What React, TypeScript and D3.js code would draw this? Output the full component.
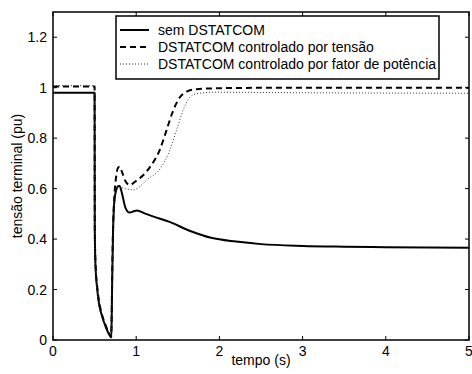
import React from "react";
import * as d3 from "d3";

const xTicks = [0, 1, 2, 3, 4, 5];
const yTicks = [0, 0.2, 0.4, 0.6, 0.8, 1, 1.2];
const yTickLabels = ["0", "0.2", "0.4", "0.6", "0.8", "1", "1.2"];

const legendLabels = [
  "sem DSTATCOM",
  "DSTATCOM controlado por tensão",
  "DSTATCOM controlado por fator de potência",
];

const tSem = [0, 0.5, 0.502, 0.51, 0.532, 0.555, 0.585, 0.636, 0.67, 0.7, 0.705, 0.712, 0.72, 0.735, 0.76, 0.79, 0.8, 0.83, 0.87, 0.92, 0.97, 1.01, 1.1, 1.2, 1.4, 1.65, 1.9, 2.2, 2.5, 3, 3.5, 4, 5];
const vSem = [0.98, 0.98, 0.45, 0.3, 0.2, 0.14, 0.1, 0.05, 0.025, 0.01, 0.08, 0.25, 0.4, 0.54, 0.595, 0.61, 0.61, 0.58, 0.525, 0.505, 0.51, 0.513, 0.502, 0.49, 0.468, 0.432, 0.405, 0.39, 0.38, 0.373, 0.37, 0.368, 0.366];

const tTensao = [0, 0.5, 0.502, 0.51, 0.532, 0.555, 0.585, 0.636, 0.67, 0.7, 0.705, 0.712, 0.72, 0.74, 0.76, 0.78, 0.8, 0.83, 0.87, 0.925, 0.985, 1.08, 1.165, 1.285, 1.365, 1.445, 1.525, 1.605, 1.725, 2.0, 2.245, 3, 5];
const vTensao = [1.005, 1.005, 0.46, 0.31, 0.21, 0.15, 0.105, 0.055, 0.028, 0.012, 0.09, 0.27, 0.42, 0.58, 0.65, 0.682, 0.687, 0.665, 0.63, 0.614, 0.627, 0.652, 0.685, 0.755, 0.832, 0.91, 0.962, 0.984, 0.994, 0.998, 0.999, 1.0, 1.0];

const tFator = [0, 0.5, 0.502, 0.51, 0.532, 0.555, 0.585, 0.636, 0.67, 0.7, 0.705, 0.712, 0.72, 0.74, 0.76, 0.79, 0.82, 0.87, 0.965, 1.05, 1.125, 1.285, 1.405, 1.485, 1.565, 1.645, 1.725, 1.925, 3, 5];
const vFator = [1.008, 1.008, 0.44, 0.29, 0.19, 0.13, 0.095, 0.045, 0.022, 0.008, 0.08, 0.25, 0.4, 0.54, 0.59, 0.61, 0.605, 0.6, 0.595, 0.61, 0.634, 0.678, 0.753, 0.832, 0.912, 0.962, 0.976, 0.982, 0.98, 0.978];

const W = 472;
const H = 374;
const left = 53, right = 469, top = 12, bottom = 340;
const FONT = "'Liberation Sans', Arial, Helvetica, sans-serif";

export default function App() {
  const x = d3.scaleLinear().domain([0, 5]).range([left, right]);
  const y = d3.scaleLinear().domain([0, 1.3]).range([bottom, top]);

  const line = d3
    .line<[number, number]>()
    .x((d) => x(d[0]))
    .y((d) => y(d[1]))
    .curve(d3.curveMonotoneX);

  const pts = (ts: number[], vs: number[]) => ts.map((t, i) => [t, vs[i]] as [number, number]);

  const series = [
    { d: line(pts(tSem, vSem)) || "", dash: undefined as string | undefined, w: 2, color: "#000" },
    { d: line(pts(tTensao, vTensao)) || "", dash: "6,4", w: 2, color: "#000" },
    { d: line(pts(tFator, vFator)) || "", dash: "1,2", w: 1, color: "#333" },
  ];

  const legX = 116, legY = 16, legW = 323, legH = 63;
  const rowY = [30, 47, 64];

  return (
    <svg
      width={W}
      height={H}
      style={{ position: "absolute", left: 0, top: 0, background: "#fff" }}
      fontFamily={FONT}
    >
      <rect x={0} y={0} width={W} height={H} fill="#fff" />
      <defs>
        <clipPath id="plotclip">
          <rect x={left} y={top} width={right - left} height={bottom - top} />
        </clipPath>
      </defs>
      <g clipPath="url(#plotclip)">
        {series.map((s, i) => (
          <path
            key={i}
            d={s.d}
            fill="none"
            stroke={s.color}
            strokeWidth={s.w}
            strokeDasharray={s.dash}
            strokeLinejoin="round"
          />
        ))}
      </g>
      {xTicks.map((t) => (
        <g key={"xt" + t}>
          <line x1={x(t)} x2={x(t)} y1={bottom} y2={bottom - 4} stroke="#000" strokeWidth={1} />
          <line x1={x(t)} x2={x(t)} y1={top} y2={top + 4} stroke="#000" strokeWidth={1} />
          <text x={x(t)} y={356} fontSize={14} textAnchor="middle" fill="#000">
            {t}
          </text>
        </g>
      ))}
      {yTicks.map((t, i) => (
        <g key={"yt" + t}>
          <line x1={left} x2={left + 4} y1={y(t)} y2={y(t)} stroke="#000" strokeWidth={1} />
          <line x1={right} x2={right - 4} y1={y(t)} y2={y(t)} stroke="#000" strokeWidth={1} />
          <text x={47} y={y(t) + 5} fontSize={14} textAnchor="end" fill="#000">
            {yTickLabels[i]}
          </text>
        </g>
      ))}
      <rect x={left} y={top} width={right - left} height={bottom - top} fill="none" stroke="#000" strokeWidth={1.5} />
      <text x={(left + right) / 2} y={365} fontSize={14} textAnchor="middle" fill="#000">
        tempo (s)
      </text>
      <text
        transform={`translate(22,${(top + bottom) / 2}) rotate(-90)`}
        fontSize={14}
        textAnchor="middle"
        fill="#000"
      >
        tensão terminal (pu)
      </text>
      <rect x={legX} y={legY} width={legW} height={legH} fill="#fff" stroke="#000" strokeWidth={1.5} />
      {legendLabels.map((lab, i) => (
        <g key={lab}>
          <line
            x1={120}
            x2={149}
            y1={rowY[i]}
            y2={rowY[i]}
            stroke={series[i].color}
            strokeWidth={series[i].w}
            strokeDasharray={series[i].dash}
          />
          <text x={158} y={rowY[i] + 5} fontSize={14} fill="#000">
            {lab}
          </text>
        </g>
      ))}
    </svg>
  );
}
